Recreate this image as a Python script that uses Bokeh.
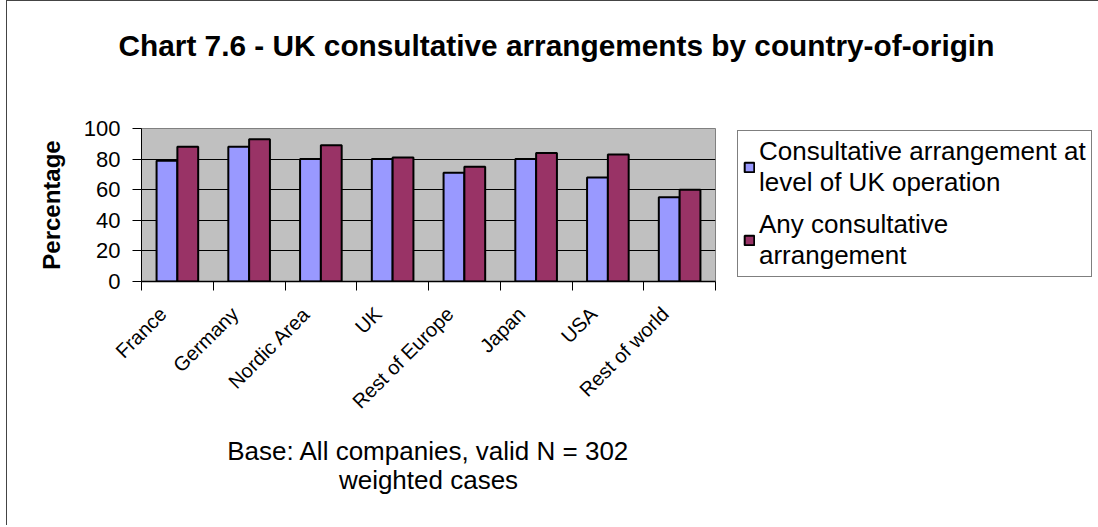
import math
from bokeh.plotting import figure
from bokeh.models import ColumnDataSource, FixedTicker, Legend, LegendItem, Title, Range1d
from bokeh.embed import file_html
from bokeh.resources import INLINE

categories = ["France", "Germany", "Nordic Area", "UK", "Rest of Europe", "Japan", "USA", "Rest of world"]
uk_level = [79, 88, 80, 80, 71, 80, 68, 55]
any_arrangement = [88, 93, 89, 81, 75, 84, 83, 60]
series_names = ["Consultative arrangement at\nlevel of UK operation", "Any consultative\narrangement"]
y_ticks = [0, 20, 40, 60, 80, 100]
title_text = "Chart 7.6 - UK consultative arrangements by country-of-origin"
note_lines = ["Base: All companies, valid N = 302", "weighted cases"]

FONT = "Liberation Sans"
BAR_W = 0.29
LABEL_SHIFT = 0.2
n = len(categories)
centers = [i + 0.5 for i in range(n)]
label_pos = [c - LABEL_SHIFT for c in centers]
src = ColumnDataSource(dict(
    cat=categories,
    x1=[c - BAR_W / 2 for c in centers],
    x2=[c + BAR_W / 2 for c in centers],
    a=uk_level,
    b=any_arrangement,
))

p = figure(frame_width=574, frame_height=153,
           min_border_left=134, min_border_top=127, min_border_bottom=244, min_border_right=382,
           x_range=Range1d(0, n), y_range=Range1d(0, 100),
           output_backend="svg", toolbar_location=None)
p.styles = {"border-left": "1px solid #444", "border-top": "1px solid #444", "margin-left": "6px"}

p.background_fill_color = "#C0C0C0"
p.border_fill_color = "white"
p.outline_line_color = "#808080"
p.outline_line_width = 1

r1 = p.vbar(x="x1", top="a", bottom=0, width=BAR_W, source=src,
            fill_color="#9999FF", line_color="black", line_width=2)
r2 = p.vbar(x="x2", top="b", bottom=0, width=BAR_W, source=src,
            fill_color="#993366", line_color="black", line_width=2)

# x axis: labels under category centres, tick marks at category boundaries
xa = p.xaxis[0]
xa.ticker = FixedTicker(ticks=label_pos, minor_ticks=list(range(n + 1)))
xa.major_label_overrides = {c: name for c, name in zip(label_pos, categories)}
xa.major_tick_out = 0
xa.major_tick_in = 0
xa.minor_tick_out = 9
xa.minor_tick_in = 0
xa.minor_tick_line_color = "black"
xa.axis_line_color = "black"
xa.axis_line_width = 1.5
xa.major_label_orientation = math.pi / 4
xa.major_label_standoff = 20
xa.major_label_text_font = FONT
xa.major_label_text_font_size = "20px"
xa.major_label_text_color = "black"

ya = p.yaxis[0]
ya.ticker = FixedTicker(ticks=y_ticks)
ya.major_tick_out = 9
ya.major_tick_in = 0
ya.minor_tick_line_color = None
ya.major_tick_line_color = "black"
ya.axis_line_color = "black"
ya.major_label_standoff = 12
ya.major_label_text_font = FONT
ya.major_label_text_font_size = "22px"
ya.major_label_text_color = "black"
ya.axis_label = "Percentage"
ya.axis_label_text_font = FONT
ya.axis_label_text_font_style = "bold"
ya.axis_label_text_font_size = "24px"
ya.axis_label_text_color = "black"
ya.axis_label_standoff = 16

p.xgrid.visible = False
p.ygrid.ticker = FixedTicker(ticks=y_ticks[1:-1])
p.ygrid.grid_line_color = "black"
p.ygrid.grid_line_width = 1

# title: a trailing blank line lifts the text higher above the plot area
p.title.text = title_text + "\n "
p.title.align = "left"
p.title.offset = -23
p.title.standoff = 40
p.title.text_line_height = 1.4
p.title.text_font = FONT
p.title.text_font_style = "bold"
p.title.text_font_size = "29.8px"
p.title.text_color = "black"

note1 = Title(text=note_lines[0], align="center", standoff=20, text_font=FONT,
              text_font_style="normal", text_font_size="26px", text_color="black")
note2 = Title(text=note_lines[1], align="center", standoff=-25, text_font=FONT,
              text_font_style="normal", text_font_size="26px", text_color="black")
p.add_layout(note1, "below")
p.add_layout(note2, "below")

legend = Legend(items=[LegendItem(label=series_names[0], renderers=[r1]),
                       LegendItem(label=series_names[1], renderers=[r2])],
                location=(22, 4), orientation="vertical",
                label_text_font=FONT, label_text_font_size="26px", label_text_color="black",
                label_text_line_height=1.23,
                border_line_color="black", border_line_width=1,
                background_fill_color="white", background_fill_alpha=1,
                glyph_width=12, glyph_height=12, label_standoff=4,
                padding=5, spacing=11, margin=0)
p.add_layout(legend, "right")

open("out.html", "w").write(file_html(p, INLINE))
